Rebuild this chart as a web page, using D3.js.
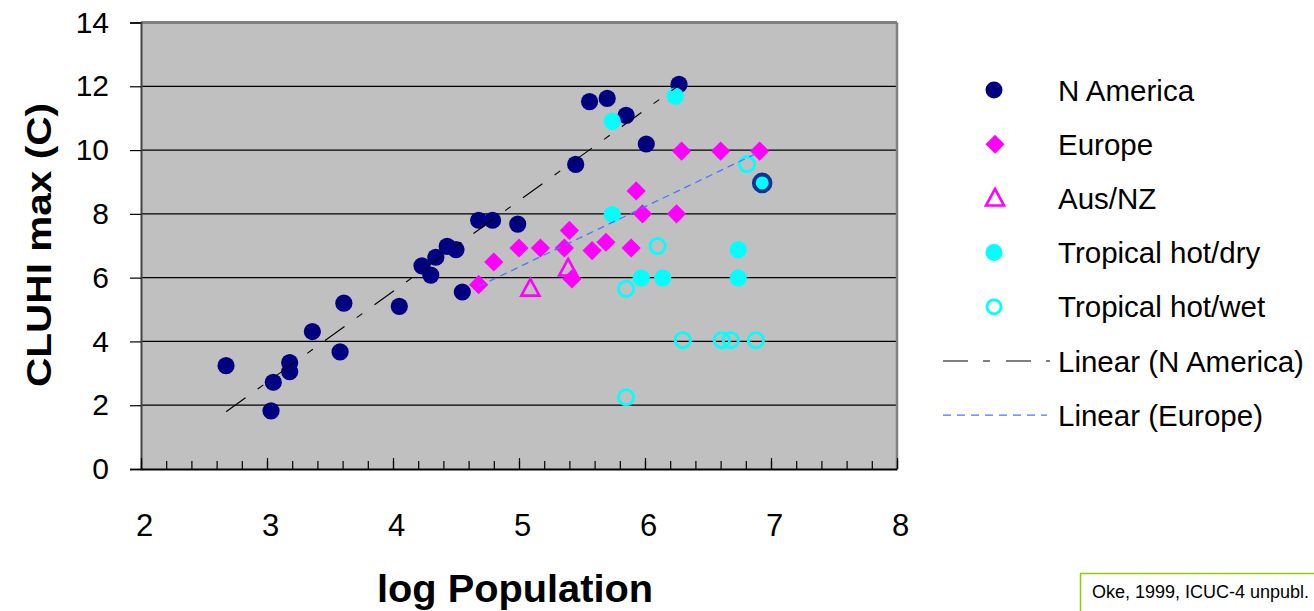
<!DOCTYPE html>
<html><head><meta charset="utf-8">
<script src="https://cdn.jsdelivr.net/npm/d3@7"></script>
<style>
html,body{margin:0;padding:0;background:#fff;}
svg{display:block;font-family:Arial,"Liberation Sans",sans-serif;}
</style></head>
<body><svg id="chart" width="1314" height="611"></svg>
<script>
// ---- data (log population, CLUHI max °C) ----
const nAmerica = [[2.675,3.24],[3.032,1.82],[3.05,2.72],[3.18,3.34],[3.18,3.05],[3.36,4.31],[3.61,5.20],[3.58,3.67],
  [4.05,5.10],[4.23,6.37],[4.30,6.08],[4.34,6.64],[4.43,6.98],[4.50,6.88],[4.55,5.55],[4.68,7.80],[4.79,7.80],[4.99,7.68],
  [5.45,9.55],[5.56,11.52],[5.70,11.62],[5.85,11.09],[6.01,10.19],[6.27,12.06]];
const europe = [[6.29,9.97],[6.60,9.97],[6.91,9.97],[5.93,8.72],[5.98,8.00],[6.25,8.00],[5.40,7.48],[5.00,6.93],[5.17,6.93],
  [5.36,6.93],[5.58,6.85],[5.69,7.11],[5.89,6.93],[4.80,6.49],[4.68,5.78],[5.42,5.96]];
const ausNZ = [[5.09,5.66],[5.39,6.29]];
const tropicalDry = [[6.24,11.69],[5.74,10.90],[5.74,7.98],[5.97,5.99],[6.14,5.99],[6.74,6.88],[6.74,5.99]];
const tropicalDryMarked = [[6.93,8.97]];
const tropicalWet = [[6.81,9.56],[6.10,6.99],[5.85,5.65],[6.30,4.04],[6.61,4.04],[6.68,4.04],[6.88,4.04],[5.85,2.25]];
const xTicks = [2,3,4,5,6,7,8];
const yTicks = [0,2,4,6,8,10,12,14];
const legendLabels = ["N America","Europe","Aus/NZ","Tropical hot/dry","Tropical hot/wet","Linear (N America)","Linear (Europe)"];
const xTitle = "log Population";
const yTitle = "CLUHI max (C)";
const sourceNote = "Oke, 1999, ICUC-4 unpubl.";

const NAVY="#000080", MAG="#FF00FF", CYAN="#00FFFF";
const svg = d3.select("#chart");
const L=141, R=897, T=22.5, B=469;
const x = d3.scaleLinear().domain([2,8]).range([L,R]);
const y = d3.scaleLinear().domain([0,14]).range([B,T]);

// plot area
svg.append("rect").attr("x",L).attr("y",T).attr("width",R-L).attr("height",B-T).attr("fill","#C0C0C0");
// gridlines
svg.append("g").selectAll("line").data(yTicks.filter(d=>d>0&&d<14)).join("line")
  .attr("x1",L).attr("x2",R).attr("y1",d=>y(d)).attr("y2",d=>y(d)).attr("stroke","#000").attr("stroke-width",1.2);
// borders
svg.append("line").attr("x1",L).attr("x2",R).attr("y1",T).attr("y2",T).attr("stroke","#808080").attr("stroke-width",3);
svg.append("line").attr("x1",R).attr("x2",R).attr("y1",T).attr("y2",B).attr("stroke","#808080").attr("stroke-width",2.5);

// y axis
const yAxis = d3.axisLeft(y).tickValues(yTicks).tickSize(11).tickPadding(21).tickFormat(d3.format("d"));
const gy = svg.append("g").attr("transform",`translate(${L},0)`).call(yAxis);
gy.select(".domain").attr("stroke","#444").attr("stroke-width",2);
gy.selectAll(".tick line").attr("stroke","#000").attr("stroke-width",1.2);
gy.selectAll("text").attr("font-size",30).attr("fill","#000").attr("font-family","Arial, 'Liberation Sans', sans-serif");

// x axis (ticks inward)
const minor = d3.range(2,8.0001,0.2);
const xAxisMinor = d3.axisTop(x).tickValues(minor).tickSize(8).tickFormat("");
const gxm = svg.append("g").attr("transform",`translate(0,${B})`).call(xAxisMinor);
gxm.select(".domain").remove();
gxm.selectAll(".tick line").attr("stroke","#000").attr("stroke-width",1.2);
const xAxis = d3.axisBottom(x).tickValues(xTicks).tickSizeInner(-11).tickSizeOuter(0).tickPadding(45).tickFormat(d3.format("d"));
const gx = svg.append("g").attr("transform",`translate(0,${B})`).call(xAxis);
gx.select(".domain").attr("stroke","#000").attr("stroke-width",2);
gx.selectAll(".tick line").attr("stroke","#000").attr("stroke-width",1.2);
gx.selectAll("text").attr("font-size",31).attr("fill","#000").attr("dx",3).attr("font-family","Arial, 'Liberation Sans', sans-serif");

// titles
svg.append("text").attr("x",515).attr("y",602).attr("text-anchor","middle")
  .attr("font-size",38).attr("font-weight","bold").attr("textLength",276).attr("lengthAdjust","spacingAndGlyphs").text(xTitle);
svg.append("text").attr("transform","translate(51,245) rotate(-90)").attr("text-anchor","middle")
  .attr("font-size",35).attr("font-weight","bold").attr("textLength",284).attr("lengthAdjust","spacingAndGlyphs").text(yTitle);

// marker helpers
const diamond = (cx,cy,s)=>`M${cx},${cy-s}L${cx+s},${cy}L${cx},${cy+s}L${cx-s},${cy}Z`;
const triangle = (cx,cy,s)=>`M${cx},${cy-s*1.0}L${cx+s*0.95},${cy+s*0.75}L${cx-s*0.95},${cy+s*0.75}Z`;

const marks = svg.append("g");
marks.selectAll(".na").data(nAmerica).join("circle").attr("cx",d=>x(d[0])).attr("cy",d=>y(d[1])).attr("r",8.6).attr("fill",NAVY);
marks.selectAll(".eu").data(europe).join("path").attr("d",d=>diamond(x(d[0]),y(d[1]),9.6)).attr("fill",MAG);
marks.selectAll(".au").data(ausNZ).join("path").attr("d",d=>triangle(x(d[0]),y(d[1]),9.5)).attr("fill","none").attr("stroke",MAG).attr("stroke-width",2.6);
marks.selectAll(".td").data(tropicalDry).join("circle").attr("cx",d=>x(d[0])).attr("cy",d=>y(d[1])).attr("r",8.6).attr("fill",CYAN);
marks.selectAll(".tdm").data(tropicalDryMarked).join("circle").attr("cx",d=>x(d[0])).attr("cy",d=>y(d[1])).attr("r",8.4).attr("fill",CYAN).attr("stroke","#0b3594").attr("stroke-width",3.8);
marks.selectAll(".tw").data(tropicalWet).join("circle").attr("cx",d=>x(d[0])).attr("cy",d=>y(d[1])).attr("r",7.6).attr("fill","none").attr("stroke",CYAN).attr("stroke-width",2.8);

// linear trendlines (least squares)
function fit(pts){
  const mx=d3.mean(pts,d=>d[0]), my=d3.mean(pts,d=>d[1]);
  const sxy=d3.sum(pts,d=>(d[0]-mx)*(d[1]-my)), sxx=d3.sum(pts,d=>(d[0]-mx)**2);
  const b=sxy/sxx, a=my-b*mx; const [x0,x1]=d3.extent(pts,d=>d[0]);
  return [[x0,a+b*x0],[x1,a+b*x1]];
}
const line = d3.line().x(d=>x(d[0])).y(d=>y(d[1]));
svg.append("path").attr("d",line(fit(nAmerica))).attr("stroke","#000").attr("stroke-width",1.1).attr("fill","none").attr("stroke-dasharray","24,15,7,15");
svg.append("path").attr("d",line(fit(europe))).attr("stroke","#4f74ff").attr("stroke-width",1.3).attr("fill","none").attr("stroke-dasharray","7,5");

// legend
const lg = svg.append("g");
const rowY = i => 90 + i*54.2;
const MX = 994, TX = 1058;
lg.append("circle").attr("cx",MX).attr("cy",rowY(0)).attr("r",8.5).attr("fill",NAVY);
lg.append("path").attr("d",diamond(MX+1,rowY(1),9.5)).attr("fill",MAG);
lg.append("path").attr("d",triangle(MX+1,rowY(2),9.5)).attr("fill","none").attr("stroke",MAG).attr("stroke-width",2.6);
lg.append("circle").attr("cx",MX).attr("cy",rowY(3)).attr("r",8.5).attr("fill",CYAN);
lg.append("circle").attr("cx",MX).attr("cy",rowY(4)).attr("r",7).attr("fill","none").attr("stroke",CYAN).attr("stroke-width",2.8);
lg.append("line").attr("x1",943).attr("x2",1050).attr("y1",rowY(5)).attr("y2",rowY(5)).attr("stroke","#000").attr("stroke-width",1.1).attr("stroke-dasharray","25,15,7,16");
lg.append("line").attr("x1",943).attr("x2",1047).attr("y1",rowY(6)).attr("y2",rowY(6)).attr("stroke","#4f74ff").attr("stroke-width",1.3).attr("stroke-dasharray","8,6");
lg.selectAll("text").data(legendLabels).join("text").attr("x",TX).attr("y",(d,i)=>rowY(i)+10.5)
  .attr("font-size",29.5).attr("fill","#000").text(d=>d);

// source note box
svg.append("rect").attr("x",1080.5).attr("y",573.5).attr("width",240).attr("height",60).attr("fill","#fff").attr("stroke","#99cc00").attr("stroke-width",1.5);
svg.append("text").attr("x",1092).attr("y",598).attr("font-size",18).attr("fill","#000").text(sourceNote);
</script></body></html>
